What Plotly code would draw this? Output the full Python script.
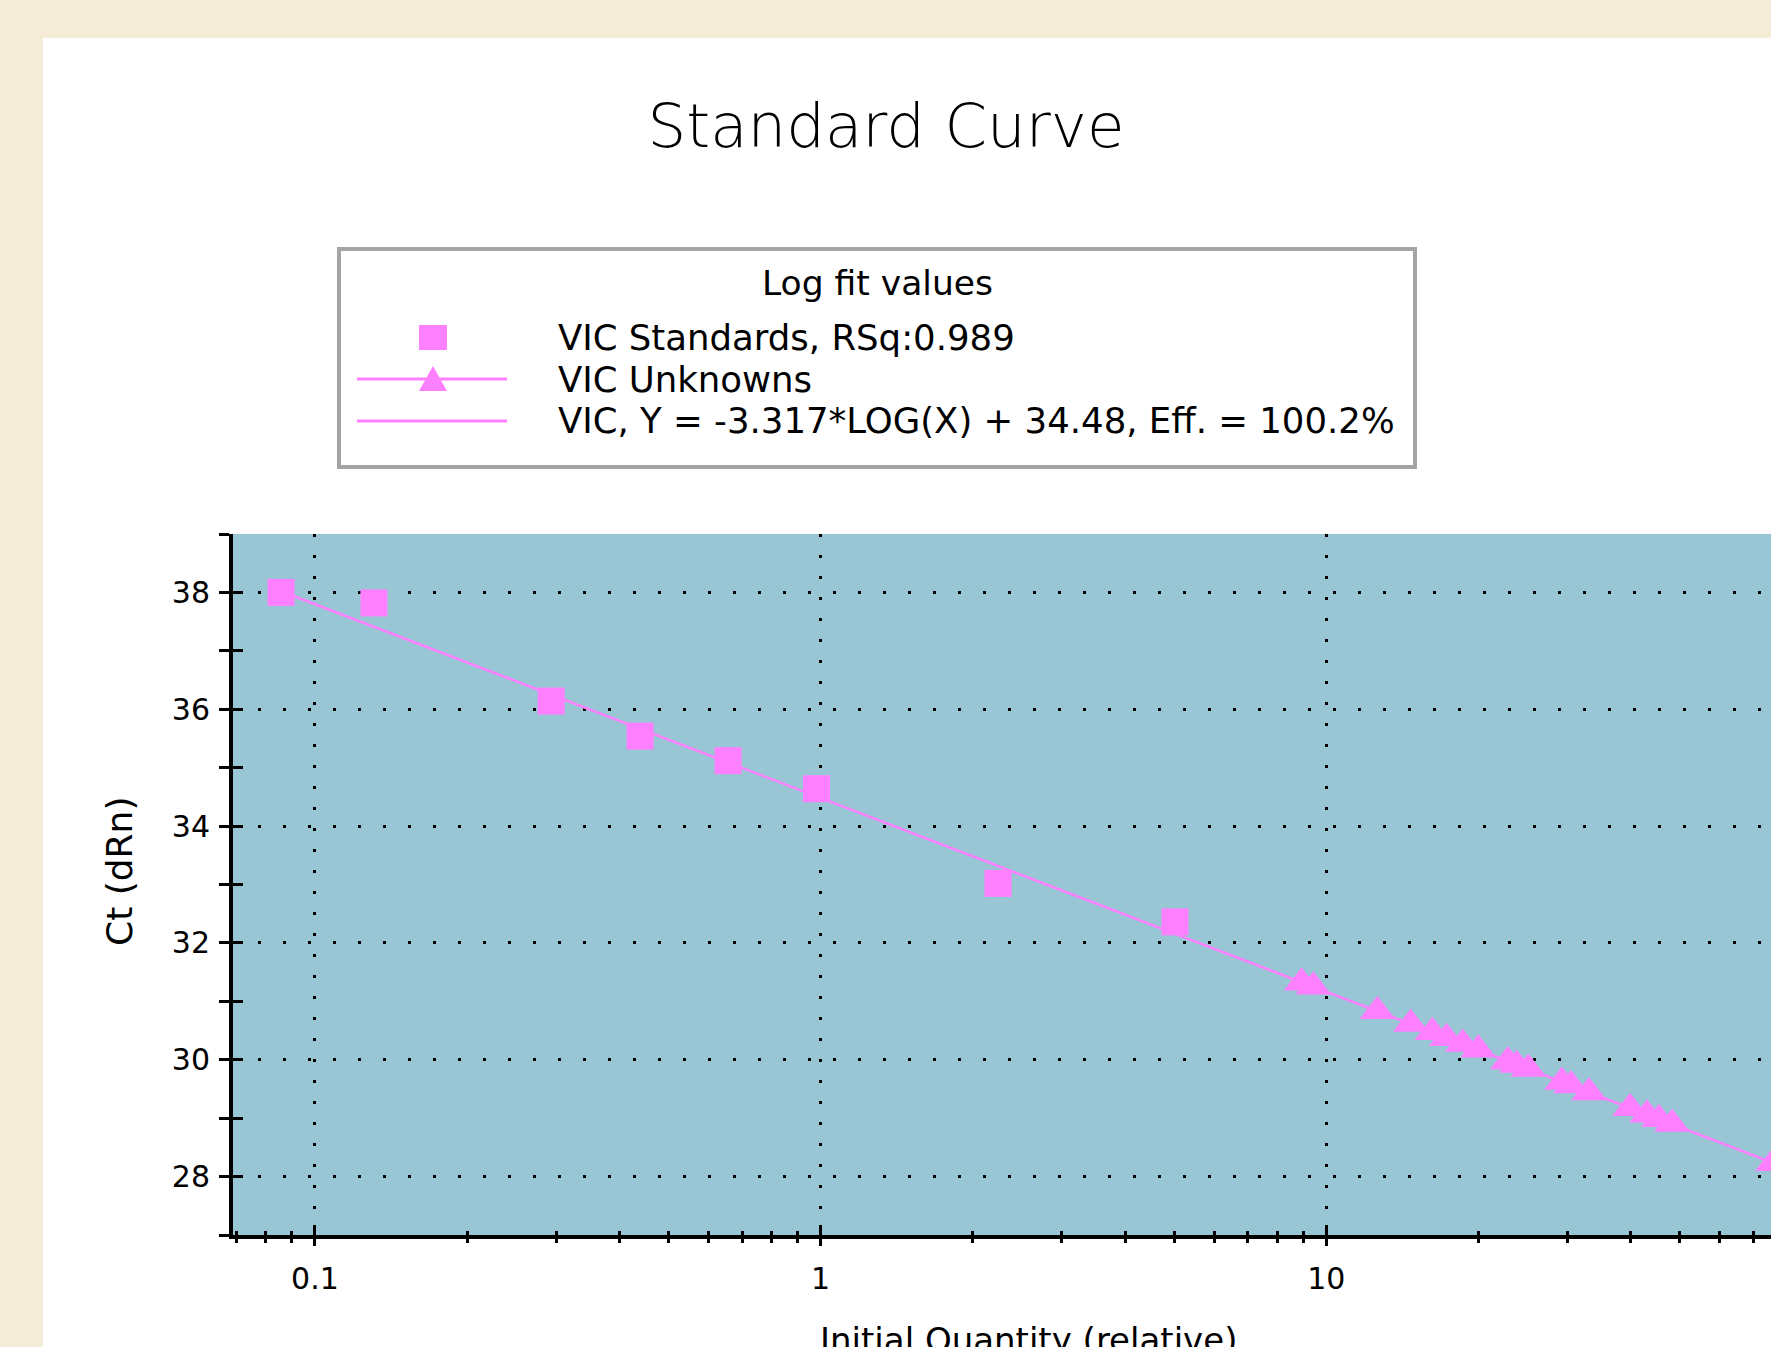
import plotly.graph_objects as go

# VIC standards (squares)
std_qty = [0.0857, 0.1308, 0.2931, 0.4395, 0.6560, 0.9815, 2.243, 5.022]
std_ct = [38.00, 37.82, 36.14, 35.54, 35.12, 34.64, 33.02, 32.36]

# VIC unknowns (triangles)
unk_qty = [8.94, 9.43, 12.62, 14.69, 16.21, 17.30, 18.62, 19.98, 22.85, 23.80,
           25.09, 29.25, 30.48, 33.08, 39.88, 43.09, 45.50, 48.29, 76.45]
unk_ct = [31.32, 31.25, 30.83, 30.61, 30.47, 30.37, 30.27, 30.17, 29.97, 29.91,
          29.84, 29.62, 29.56, 29.44, 29.17, 29.06, 28.98, 28.90, 28.23]

# fit line ends, Y = -3.317*LOG(X) + 34.48
fit_qty = [0.0857, 80]
fit_ct = [38.02, 28.17]

x_ticks = [0.1, 1, 10]
x_tick_labels = ["0.1", "1", "10"]
x_minor = [0.07, 0.08, 0.09, 0.2, 0.3, 0.4, 0.5, 0.6, 0.7, 0.8, 0.9,
           2, 3, 4, 5, 6, 7, 8, 9, 20, 30, 40, 50, 60, 70]
y_ticks = [28, 30, 32, 34, 36, 38]

legend_title = "Log fit values"
legend_labels = ["VIC Standards, RSq:0.989",
                 "VIC Unknowns",
                 "VIC, Y = -3.317*LOG(X) + 34.48, Eff. = 100.2%"]

PINK = "#FF80FF"
BLUE = "#99C6D5"
BEIGE = "#F4ECD6"
FONT = "DejaVu Sans"

W, H = 1771, 1347
L, T, B = 233, 534, 112
PW, PH = W - L, H - T - B
x_range = [-1.1621, 1.8795]
y_range = [27, 39]


def px_x(px):
    return (px - L) / PW


def px_y(py):
    return (H - B - py) / PH


fig = go.Figure()
fig.add_trace(go.Scatter(x=fit_qty, y=fit_ct, mode="lines",
                         line=dict(color=PINK, width=2.5), showlegend=False,
                         hoverinfo="skip"))
fig.add_trace(go.Scatter(x=unk_qty, y=unk_ct, mode="markers",
                         marker=dict(symbol="triangle-up", size=31, color=PINK),
                         showlegend=False))
fig.add_trace(go.Scatter(x=std_qty, y=std_ct, mode="markers",
                         marker=dict(symbol="square", size=27, color=PINK),
                         showlegend=False))
# empty trace so the overlay axes (inner half of the ticks) get drawn
fig.add_trace(go.Scatter(x=[], y=[], xaxis="x2", yaxis="y2", showlegend=False))

tickfont = dict(family=FONT, size=30, color="black")

fig.update_layout(
    width=W, height=H,
    margin=dict(l=L, r=0, t=T, b=B, pad=0),
    paper_bgcolor="white",
    plot_bgcolor=BLUE,
    showlegend=False,
    title=dict(text="Standard Curve", x=886 / W, xref="container", xanchor="center",
               y=1 - 126 / H, yref="container", yanchor="middle",
               font=dict(family=FONT, size=61, color="black", weight=200)),
    xaxis=dict(type="log", range=x_range, tickvals=x_ticks, ticktext=x_tick_labels,
               ticks="outside", ticklen=7, tickwidth=3, tickcolor="black",
               showline=True, linewidth=4, linecolor="black",
               showgrid=True, gridcolor="black", gridwidth=3, griddash="3px,18px",
               minor=dict(tickvals=x_minor, ticks="outside", ticklen=4, tickwidth=3,
                          tickcolor="black", showgrid=False),
               tickfont=tickfont, ticklabelstandoff=7, zeroline=False),
    yaxis=dict(range=y_range, tickvals=y_ticks,
               ticks="outside", ticklen=10, tickwidth=3, tickcolor="black",
               showline=True, linewidth=4, linecolor="black",
               showgrid=True, gridcolor="black", gridwidth=3, griddash="3px,22px",
               minor=dict(dtick=1, tick0=27, ticks="outside", ticklen=10, tickwidth=3,
                          tickcolor="black", showgrid=False),
               tickfont=tickfont, ticklabelstandoff=3, zeroline=False),
    xaxis2=dict(type="log", range=x_range, overlaying="x", anchor="y2", side="bottom",
                tickvals=x_ticks, ticks="inside", ticklen=10, tickwidth=3,
                tickcolor="black", showticklabels=False, showgrid=False,
                showline=False, zeroline=False,
                minor=dict(tickvals=x_minor, ticks="inside", ticklen=4, tickwidth=3,
                           tickcolor="black", showgrid=False)),
    yaxis2=dict(range=y_range, overlaying="y", anchor="x2", side="left",
                tickmode="linear", tick0=27, dtick=1, ticks="inside", ticklen=10,
                tickwidth=3, tickcolor="black", showticklabels=False,
                showgrid=False, showline=False, zeroline=False),
)

shapes = [
    # beige frame around the white panel
    dict(type="rect", xref="paper", yref="paper", x0=px_x(0), x1=px_x(W),
         y0=px_y(38), y1=px_y(0), fillcolor=BEIGE, line_width=0, layer="below"),
    dict(type="rect", xref="paper", yref="paper", x0=px_x(0), x1=px_x(43),
         y0=px_y(H), y1=px_y(0), fillcolor=BEIGE, line_width=0, layer="below"),
    # legend box
    dict(type="rect", xref="paper", yref="paper", x0=px_x(339), x1=px_x(1415),
         y0=px_y(467), y1=px_y(249), fillcolor="white",
         line=dict(color="#A4A4A4", width=4)),
    # legend glyphs
    dict(type="rect", xref="paper", yref="paper", x0=px_x(419), x1=px_x(447),
         y0=px_y(350), y1=px_y(325), fillcolor=PINK, line_width=0),
    dict(type="line", xref="paper", yref="paper", x0=px_x(357), x1=px_x(507),
         y0=px_y(379), y1=px_y(379), line=dict(color=PINK, width=3)),
    dict(type="path", xref="paper", yref="paper",
         path="M{},{} L{},{} L{},{} Z".format(px_x(419), px_y(391), px_x(447), px_y(391),
                                               px_x(433), px_y(366)),
         fillcolor=PINK, line_width=0),
    dict(type="line", xref="paper", yref="paper", x0=px_x(357), x1=px_x(507),
         y0=px_y(421), y1=px_y(421), line=dict(color=PINK, width=3)),
]
fig.update_layout(shapes=shapes)

legfont = dict(family=FONT, size=35.5, color="black")
annotations = [
    dict(text=legend_title, x=px_x(877), y=px_y(283), xanchor="center", yanchor="middle",
         font=dict(family=FONT, size=34.5, color="black")),
    dict(text=legend_labels[0], x=px_x(556), y=px_y(338), xanchor="left", yanchor="middle",
         font=legfont),
    dict(text=legend_labels[1], x=px_x(556), y=px_y(379), xanchor="left", yanchor="middle",
         font=legfont),
    dict(text=legend_labels[2], x=px_x(556), y=px_y(420), xanchor="left", yanchor="middle",
         font=legfont),
    # axis titles
    dict(text="Ct (dRn)", x=px_x(119), y=px_y(872), textangle=-90,
         xanchor="center", yanchor="middle", font=dict(family=FONT, size=36, color="black")),
    dict(text="Initial Quantity (relative)", x=px_x(1028), y=px_y(1318),
         xanchor="center", yanchor="top", font=dict(family=FONT, size=34, color="black")),
]
for a in annotations:
    a.update(xref="paper", yref="paper", showarrow=False)
fig.update_layout(annotations=annotations)

# the page's default body margin would shift the whole figure
fig.write_html("out.html", config={"displayModeBar": False},
               post_script="document.body.style.margin='0';"
                           "document.body.style.overflow='hidden';")
